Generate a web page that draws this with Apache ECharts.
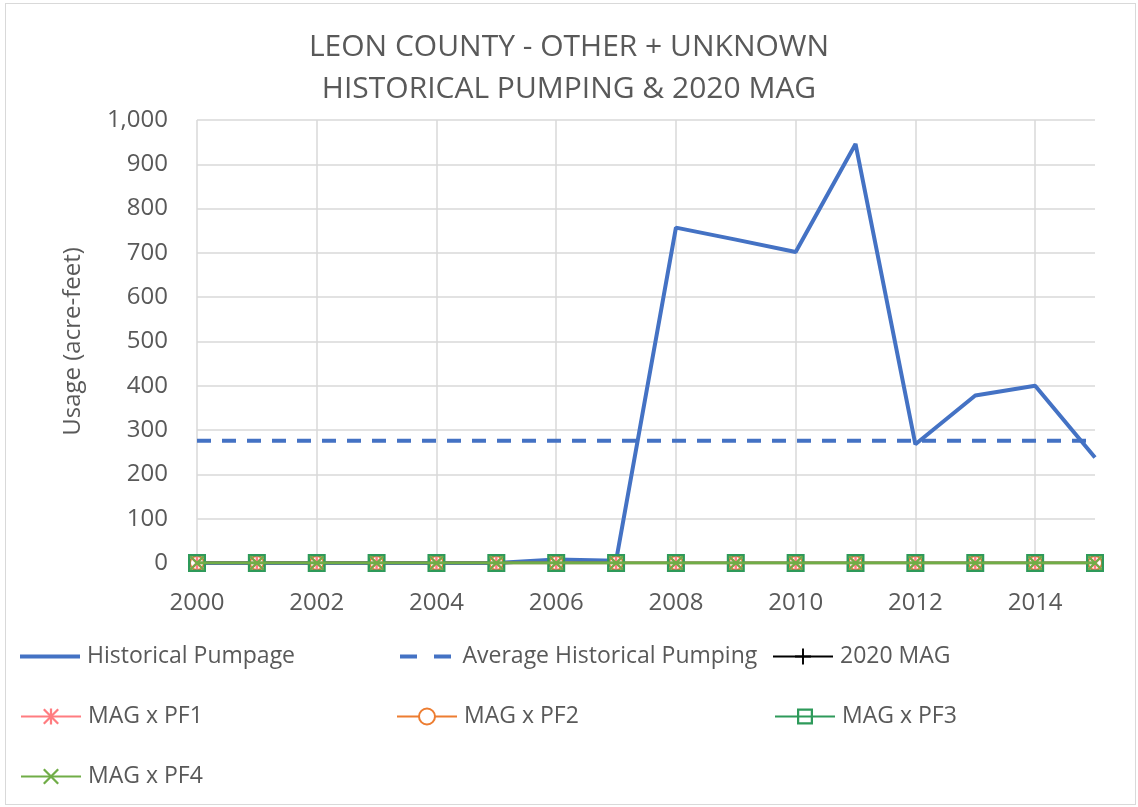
<!DOCTYPE html>
<html>
<head>
<meta charset="utf-8">
<script src="https://cdn.jsdelivr.net/npm/echarts@6/dist/echarts.min.js"></script>
<style>
  html, body { margin: 0; padding: 0; background: #fff; }
  #frame { position: absolute; left: 5px; top: 3px; width: 1131px; height: 802px; border: 1px solid #d9d9d9; box-sizing: border-box; }
  #chart { position: absolute; left: 0; top: 0; width: 1138px; height: 807px; }
</style>
</head>
<body>
<div id="frame"></div>
<div id="chart"></div>
<script>
// years on the x axis
var years = ['2000', '2001', '2002', '2003', '2004', '2005', '2006', '2007',
             '2008', '2009', '2010', '2011', '2012', '2013', '2014', '2015']
// historical pumpage (acre-feet)
var historical = [0, 0, 0, 0, 0, 0, 8, 5, 757, 730, 702, 946, 268, 378, 400, 238]
var avgPumping = [276, 276, 276, 276, 276, 276, 276, 276, 276, 276, 276, 276, 276, 276, 276, 276]
var mag2020 = [0, 0, 0, 0, 0, 0, 0, 0, 0, 0, 0, 0, 0, 0, 0, 0]
var magPF1 = [0, 0, 0, 0, 0, 0, 0, 0, 0, 0, 0, 0, 0, 0, 0, 0]
var magPF2 = [0, 0, 0, 0, 0, 0, 0, 0, 0, 0, 0, 0, 0, 0, 0, 0]
var magPF3 = [0, 0, 0, 0, 0, 0, 0, 0, 0, 0, 0, 0, 0, 0, 0, 0]
var magPF4 = [0, 0, 0, 0, 0, 0, 0, 0, 0, 0, 0, 0, 0, 0, 0, 0]

var FONT = 'Open Sans'
var GREY = '#595959'

// marker shapes (filled paths)
var plusPath = 'path://M4.4,0H5.6V10H4.4ZM0,4.4H10V5.6H0Z'
var starPath = 'path://M4.3,0H5.7V10H4.3ZM0,1L1,0L10,9L9,10ZM9,0L10,1L1,10L0,9Z'
var crossPath = 'path://M0,1L1,0L10,9L9,10ZM9,0L10,1L1,10L0,9Z'
var squarePath = 'path://M0,0H10V10H0ZM1.4,1.4V8.6H8.6V1.4Z'
// legend icons for the two blue lines (no marker)
var solidIcon = 'path://M0,0H60V4H0Z'
var dashIcon = 'path://M0,0H17V4H0ZM34,0H51V4H34Z'

var chart = echarts.init(document.getElementById('chart'))

function legendAt(name, left, top, icon) {
    var item = { name: name }
    if (icon) item.icon = icon
    return {
        data: [item],
        left: left,
        top: top,
        padding: 0,
        itemWidth: 60,
        itemHeight: icon ? 4 : 20,
        textStyle: { fontFamily: FONT, fontSize: 23, color: GREY, padding: [0, 0, 0, 2] }
    }
}

chart.setOption({
    animation: false,
    title: {
        text: 'LEON COUNTY - OTHER + UNKNOWN\nHISTORICAL PUMPING & 2020 MAG',
        left: 'center',
        top: 21,
        textStyle: { fontFamily: FONT, fontSize: 30, fontWeight: 'normal', color: GREY, lineHeight: 42 }
    },
    legend: [
        legendAt('Historical Pumpage', 20, 645, solidIcon),
        legendAt('Average Historical Pumping', 400, 645, dashIcon),
        legendAt('2020 MAG', 772, 645),
        legendAt('MAG x PF1', 20, 705),
        legendAt('MAG x PF2', 396, 705),
        legendAt('MAG x PF3', 774, 705),
        legendAt('MAG x PF4', 20, 765)
    ],
    grid: { left: 197, right: 43, top: 120, bottom: 244 },
    xAxis: {
        type: 'category',
        data: years,
        boundaryGap: false,
        axisLine: { lineStyle: { color: '#d9d9d9', width: 1.5 } },
        axisTick: { show: false },
        axisLabel: { interval: 1, fontFamily: FONT, fontSize: 24, color: GREY, margin: 28 },
        splitLine: { show: true, interval: 1, lineStyle: { color: '#d9d9d9', width: 1.5 } }
    },
    yAxis: {
        type: 'value',
        min: 0,
        max: 1000,
        interval: 100,
        name: 'Usage (acre-feet)',
        nameLocation: 'middle',
        nameGap: 112,
        nameTextStyle: { fontFamily: FONT, fontSize: 24, color: GREY },
        axisLine: { show: false },
        axisTick: { show: false },
        axisLabel: { fontFamily: FONT, fontSize: 24, color: GREY, margin: 29 },
        splitLine: { lineStyle: { color: '#d9d9d9', width: 1.5 } }
    },
    series: [
        {
            name: 'Historical Pumpage', type: 'line', data: historical, symbol: 'none', z: 5,
            lineStyle: { color: '#4472c4', width: 4 }, itemStyle: { color: '#4472c4' }
        },
        {
            name: 'Average Historical Pumping', type: 'line', data: avgPumping, symbol: 'none', z: 4,
            lineStyle: { color: '#4472c4', width: 4, type: [14, 11] }, itemStyle: { color: '#4472c4' }
        },
        {
            name: '2020 MAG', type: 'line', data: mag2020, symbol: plusPath, symbolSize: 16, z: 6,
            lineStyle: { color: '#000', width: 2.5 }, itemStyle: { color: '#000' }
        },
        {
            name: 'MAG x PF2', type: 'line', data: magPF2, symbol: 'emptyCircle', symbolSize: 14, z: 6,
            lineStyle: { color: '#ed7d31', width: 2.5 }, itemStyle: { color: '#ed7d31', borderWidth: 2 }
        },
        {
            name: 'MAG x PF1', type: 'line', data: magPF1, symbol: starPath, symbolSize: 17, z: 7,
            lineStyle: { color: '#ff7c80', width: 2.5 }, itemStyle: { color: '#ff7c80' }
        },
        {
            name: 'MAG x PF3', type: 'line', data: magPF3, symbol: squarePath, symbolSize: 18, z: 8,
            lineStyle: { color: '#2e9a5a', width: 2.5 }, itemStyle: { color: '#2e9a5a' }
        },
        {
            name: 'MAG x PF4', type: 'line', data: magPF4, symbol: crossPath, symbolSize: 15, z: 9,
            lineStyle: { color: '#70ad47', width: 3 }, itemStyle: { color: '#70ad47' }
        }
    ]
})
</script>
</body>
</html>
